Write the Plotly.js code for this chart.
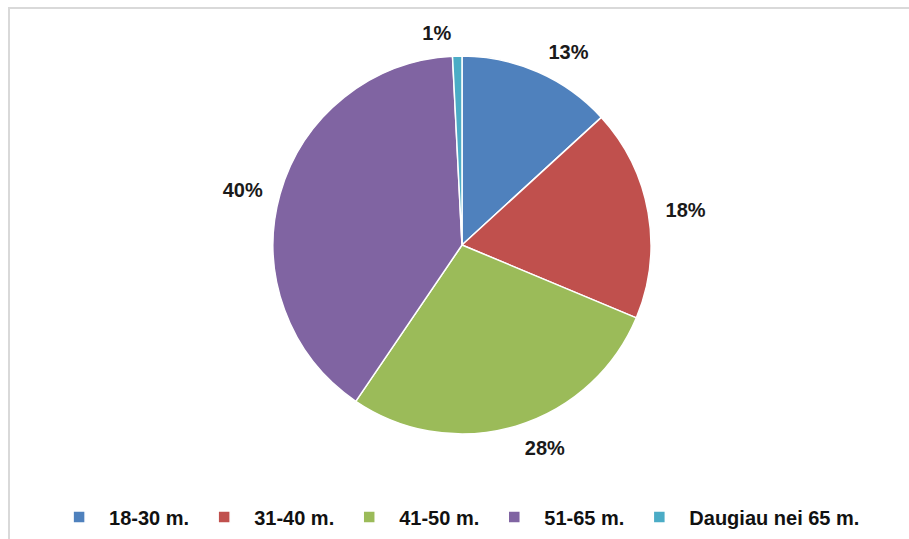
<!DOCTYPE html>
<html>
<head>
<meta charset="utf-8">
<script src="https://cdn.plot.ly/plotly-3.0.1.min.js"></script>
<style>
  html, body { margin: 0; padding: 0; background: #fff; }
  #wrap { position: relative; width: 909px; height: 539px; overflow: hidden; }
  #chart { position: absolute; left: 0; top: 0; width: 909px; height: 539px; }
  #frame { position: absolute; left: 8px; top: 7px; width: 920px; height: 560px;
           border-left: 2px solid #d9d9d9; border-top: 2px solid #d9d9d9; pointer-events: none; }
</style>
</head>
<body>
<div id="wrap">
  <div id="chart"></div>
  <div id="frame"></div>
</div>
<script>
const categories = ["18-30 m.", "31-40 m.", "41-50 m.", "51-65 m.", "Daugiau nei 65 m."];
const shares = [13.2, 18.1, 28.2, 39.7, 0.8];
const colors = ["#4F81BD", "#C0504D", "#9BBB59", "#8064A2", "#4BACC6"];

const labelFont = { family: "Liberation Sans, Arial, sans-serif", size: 20, color: "#1a1a1a", weight: "bold" };

// visible pie (no text)
const pieTrace = {
  type: "pie",
  labels: categories,
  values: shares,
  sort: false,
  direction: "clockwise",
  rotation: 0,
  domain: { x: [0, 1], y: [0.0299, 0.9701] },
  marker: { colors: colors, line: { color: "#ffffff", width: 1.5 } },
  textinfo: "none",
  hoverinfo: "label+percent",
  automargin: false
};

// transparent, slightly larger pie carrying the outside percentage labels
const labelTrace = {
  type: "pie",
  labels: categories,
  values: shares,
  sort: false,
  direction: "clockwise",
  rotation: 0,
  domain: { x: [0, 1], y: [0, 1] },
  marker: { colors: categories.map(() => "rgba(0,0,0,0)"), line: { width: 0 } },
  textposition: "outside",
  texttemplate: "%{percent:.0%}",
  outsidetextfont: labelFont,
  showlegend: false,
  hoverinfo: "skip",
  automargin: false
};

const layout = {
  width: 909,
  height: 539,
  margin: { l: 15, r: 0, t: 44, b: 93 },
  paper_bgcolor: "rgba(0,0,0,0)",
  plot_bgcolor: "rgba(0,0,0,0)",
  showlegend: true,
  legend: {
    orientation: "h",
    xref: "container", yref: "container",
    x: 0.054, xanchor: "left",
    y: 0.041, yanchor: "middle",
    itemwidth: 50,
    font: { family: "Liberation Sans, Arial, sans-serif", size: 20, color: "#111111", weight: "bold" },
    traceorder: "normal"
  }
};

Plotly.newPlot("chart", [pieTrace, labelTrace], layout, { displayModeBar: false, staticPlot: true });
</script>
</body>
</html>
